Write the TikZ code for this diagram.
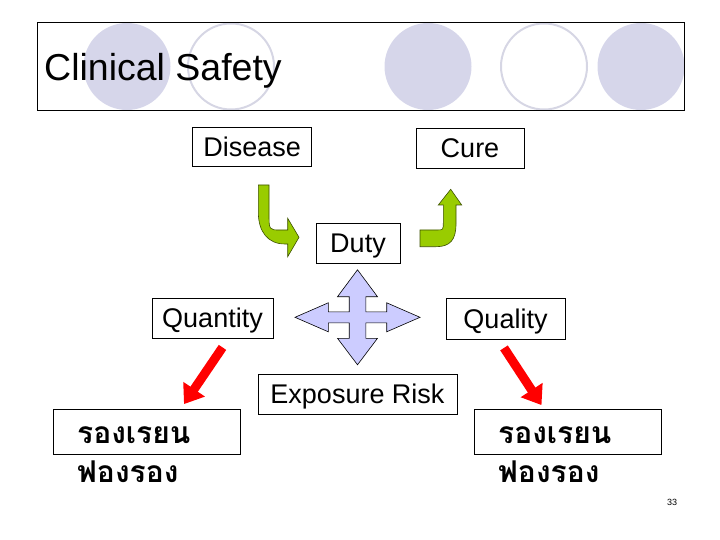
\documentclass[tikz,border=0pt]{standalone}
\usepackage{fontspec}
\setmainfont{Liberation Sans}
\newfontfamily\thaifont[Script=Thai]{Loma}
\usetikzlibrary{arrows.meta,positioning}

\definecolor{lav}{RGB}{214,214,234}
\definecolor{lavline}{RGB}{214,214,228}
\definecolor{quadfill}{RGB}{204,204,255}
\definecolor{leaf}{RGB}{153,204,0}
\definecolor{leafline}{RGB}{60,80,0}
\definecolor{arrred}{RGB}{255,0,0}

\begin{document}
\begin{tikzpicture}[
  x=1pt, y=-1pt,
  every node/.style={inner sep=0pt},
  box/.style={draw=black, line width=0.8pt, font=\fontsize{27}{32}\selectfont,
              text height=19.5pt, text depth=0pt},
  titlebox/.style={draw=black, line width=0.8pt, minimum width=647pt, minimum height=88pt},
  thaibox/.style={draw=black, line width=0.8pt, minimum width=187pt, minimum height=45pt},
  thaitxt/.style={font=\thaifont\bfseries\fontsize{30}{39}\selectfont, align=left, anchor=base west},
  disc/.style={fill=lav},
  ring/.style={draw=lavline, line width=2pt},
  redarr/.style={-{Triangle[length=18pt, width=25pt]}, line width=9pt, draw=arrred},
  greenarr/.style={fill=leaf, draw=leafline, line width=0.6pt},
  quad/.style={fill=quadfill, draw=black, line width=0.6pt},
]
\useasboundingbox (0,0) rectangle (720,540);

%% --- Title bar with circles ---
\fill[disc] (127,66.5) circle (43.5);
\draw[ring] (231,66.5) circle (43);
\fill[disc] (428,66.5) circle (43.5);
\draw[ring] (544,66.5) circle (43);
\fill[disc] (641,66.5) circle (43.5);
\node[titlebox] (title) at (360.5,66) {};
\node[anchor=base west, font=\fontsize{37.5}{42}\selectfont] (titletext) at (44,80.5) {Clinical Safety};

%% --- Boxes ---
\node[box, minimum width=119pt, minimum height=39pt] (disease) at (252.2,146.5) {Disease};
\node[box, minimum width=108pt, minimum height=40pt] (cure)    at (470,148)     {Cure};
\node[box, minimum width=84pt,  minimum height=40pt] (duty)    at (358,243)     {Duty};
\node[box, minimum width=121pt, minimum height=40pt] (quantity) at (212.5,318)  {Quantity};
\node[box, minimum width=119pt, minimum height=41pt] (quality)  at (505.5,318.5) {Quality};
\node[box, minimum width=199pt, minimum height=40pt] (exposure) at (357.5,394)  {Exposure Risk};

%% --- Thai boxes, text runs out below ---
\node[thaibox] (thaiBoxL) at (147,431.5) {};
\node[thaibox] (thaiBoxR) at (568,431.5) {};
\node[thaitxt] (thaiTextL) at (77,482)  {รองเรยน\\ฟองรอง};
\node[thaitxt] (thaiTextR) at (498,482) {รองเรยน\\ฟองรอง};

%% --- Green bent arrows ---
\draw[greenarr] (258.3,185) -- (269,185) -- (269,213) .. controls (269,230) .. (280,230)
  -- (287.7,230) -- (287.7,218.3) -- (299,237.3) -- (287.7,256.7) -- (287.7,244) -- (285,244)
  .. controls (268,244) and (258.3,232) .. (258.3,212) -- cycle;
\draw[greenarr] (420,230) -- (437,230) .. controls (443.3,230) .. (443.3,222) -- (443.3,205)
  -- (438.3,205) -- (450.7,189.3) -- (461.7,205) -- (456,205) -- (456,224)
  .. controls (456,240) and (450,246.7) .. (436,246.7) -- (420,246.7) -- cycle;

%% --- Four-way arrow ---
\draw[quad, shift={(357.5,317.3)}]
  (0,-47.5) -- (20,-20.6) -- (8.3,-20.6) -- (8.3,-5.5) -- (29.2,-5.5) -- (29.2,-14.5)
  -- (62.5,0) -- (29.2,14.5) -- (29.2,5.5) -- (8.3,5.5) -- (8.3,21) -- (20,21)
  -- (0,47.5) -- (-20,21) -- (-8.3,21) -- (-8.3,5.5) -- (-29.2,5.5) -- (-29.2,14.5)
  -- (-62.5,0) -- (-29.2,-14.5) -- (-29.2,-5.5) -- (-8.3,-5.5) -- (-8.3,-20.6) -- (-20,-20.6)
  -- cycle;

%% --- Red arrows ---
\draw[redarr] ([xshift=10pt,yshift=-9pt]quantity.south) -- ([xshift=37pt,yshift=4.5pt]thaiBoxL.north);
\draw[redarr] ([xshift=-1.5pt,yshift=-8.5pt]quality.south) -- ([xshift=-26.5pt,yshift=3.5pt]thaiBoxR.north);

%% --- Page number ---
\node[font=\fontsize{9}{10}\selectfont] (pagenum) at (672,502) {33};

\end{tikzpicture}
\end{document}
